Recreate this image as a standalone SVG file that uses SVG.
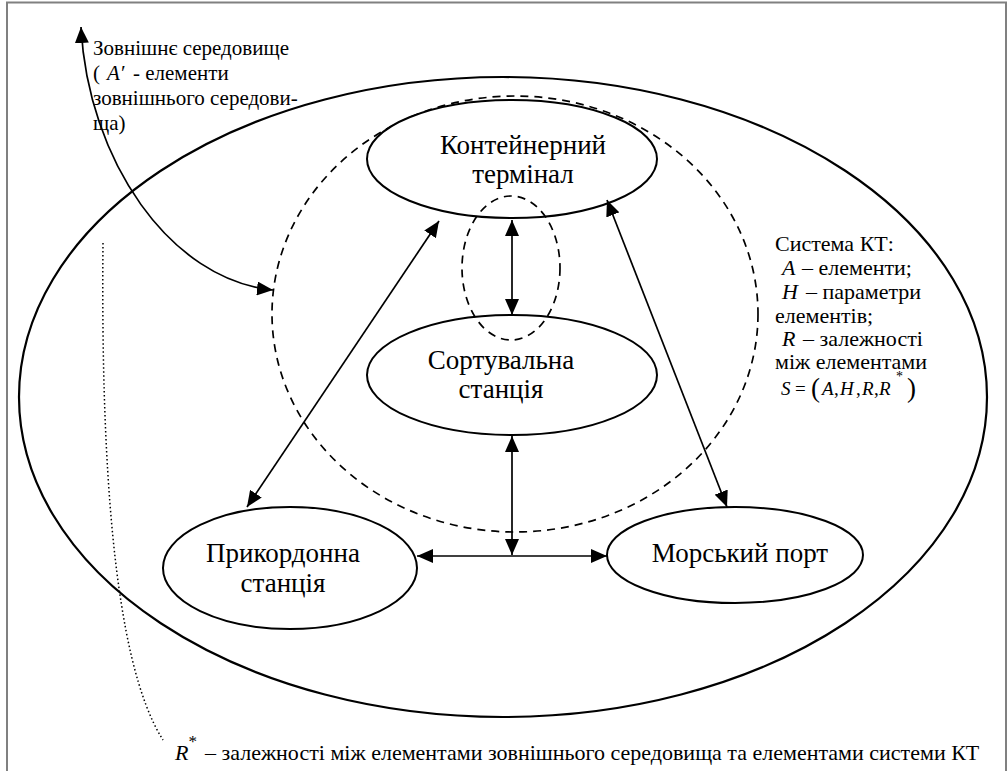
<svg xmlns="http://www.w3.org/2000/svg" width="1008" height="771" viewBox="0 0 1008 771">
<defs>
<marker id="ah" viewBox="0 0 16 14" refX="16" refY="7" markerWidth="16" markerHeight="14" orient="auto-start-reverse" markerUnits="userSpaceOnUse"><path d="M0,0 L16,7 L0,14 z" fill="#000"/></marker>
</defs>
<rect width="1008" height="771" fill="#fff"/>
<rect x="7" y="2.5" width="999" height="790" fill="none" stroke="#808080" stroke-width="2"/>
<g id="environment">
<ellipse fill="none" stroke="#000" stroke-width="2.2" cx="503" cy="397" rx="484" ry="320"/>
</g>
<g id="system-boundary">
<ellipse fill="none" stroke="#000" stroke-width="1.7" stroke-dasharray="8,6" cx="515" cy="314" rx="243" ry="218"/>
</g>
<g id="kt">
<ellipse fill="#fff" stroke="#000" stroke-width="2" cx="512" cy="159" rx="145" ry="59"/>
<text x="523" y="154" font-size="27" font-family="Times New Roman, Liberation Serif, serif" text-anchor="middle">Контейнерний</text>
<text x="523" y="183" font-size="27" font-family="Times New Roman, Liberation Serif, serif" text-anchor="middle">термінал</text>
</g>
<g id="sort">
<ellipse fill="#fff" stroke="#000" stroke-width="2" cx="512" cy="375" rx="145" ry="60"/>
<text x="501" y="369" font-size="27" font-family="Times New Roman, Liberation Serif, serif" text-anchor="middle">Сортувальна</text>
<text x="501" y="398" font-size="27" font-family="Times New Roman, Liberation Serif, serif" text-anchor="middle">станція</text>
</g>
<g id="kt-sort-boundary">
<ellipse fill="none" stroke="#000" stroke-width="1.7" stroke-dasharray="8,6" cx="511" cy="268" rx="49" ry="72"/>
</g>
<g id="border">
<ellipse fill="#fff" stroke="#000" stroke-width="2" cx="290" cy="568" rx="127" ry="61"/>
<text x="283" y="562" font-size="27" font-family="Times New Roman, Liberation Serif, serif" text-anchor="middle">Прикордонна</text>
<text x="283" y="592" font-size="27" font-family="Times New Roman, Liberation Serif, serif" text-anchor="middle">станція</text>
</g>
<g id="port">
<ellipse fill="#fff" stroke="#000" stroke-width="2" cx="735" cy="555" rx="128" ry="48"/>
<text x="740" y="562" font-size="27" font-family="Times New Roman, Liberation Serif, serif" text-anchor="middle">Морський порт</text>
</g>
<g id="connectors" fill="none" stroke="#000" stroke-width="1.7">
<path marker-start="url(#ah)" marker-end="url(#ah)" d="M512,220 L512,315"/>
<path marker-start="url(#ah)" marker-end="url(#ah)" d="M512,436 L512,555"/>
<path marker-start="url(#ah)" marker-end="url(#ah)" d="M417,556 L607,556"/>
<path marker-start="url(#ah)" marker-end="url(#ah)" d="M247,507 L439,221"/>
<path marker-start="url(#ah)" marker-end="url(#ah)" d="M727,507 L607,200"/>
<path marker-start="url(#ah)" marker-end="url(#ah)" d="M81,27 C88,160 170,280 273,290"/>
<path stroke-width="1.5" stroke-dasharray="1.5,2.5" d="M103,243 C101,450 112,660 163,740"/>
</g>
<g id="env-label">
<text x="93" y="55" font-size="21" font-family="Times New Roman, Liberation Serif, serif">Зовнішнє середовище</text>
<text x="93" y="80" font-size="21" font-family="Times New Roman, Liberation Serif, serif">(<tspan x="107" font-style="italic">A′</tspan><tspan x="133">- елементи</tspan></text>
<text x="93" y="105" font-size="21" font-family="Times New Roman, Liberation Serif, serif">зовнішнього середови-</text>
<text x="93" y="130" font-size="21" font-family="Times New Roman, Liberation Serif, serif">ща)</text>
</g>
<g id="system-label">
<text x="775" y="251" font-size="22" font-family="Times New Roman, Liberation Serif, serif">Система КТ:</text>
<text x="782" y="275" font-size="22" font-family="Times New Roman, Liberation Serif, serif"><tspan font-style="italic">A</tspan><tspan x="802">– елементи;</tspan></text>
<text x="782" y="299" font-size="22" font-family="Times New Roman, Liberation Serif, serif"><tspan font-style="italic">H</tspan><tspan x="806">– параметри</tspan></text>
<text x="775" y="323" font-size="22" font-family="Times New Roman, Liberation Serif, serif">елементів;</text>
<text x="782" y="346" font-size="22" font-family="Times New Roman, Liberation Serif, serif"><tspan font-style="italic">R</tspan><tspan x="803">– залежності</tspan></text>
<text x="775" y="369" font-size="22" font-family="Times New Roman, Liberation Serif, serif">між елементами</text>
<text y="395" font-size="19" font-family="Times New Roman, Liberation Serif, serif"><tspan x="781" font-style="italic">S</tspan><tspan x="795">=</tspan><tspan x="811" y="397" font-size="27">(</tspan><tspan x="822" y="395" font-style="italic">A</tspan><tspan x="834">,</tspan><tspan x="840" font-style="italic">H</tspan><tspan x="856">,</tspan><tspan x="862" font-style="italic">R</tspan><tspan x="874">,</tspan><tspan x="879" font-style="italic">R</tspan><tspan x="896" y="381" font-size="14">*</tspan><tspan x="907" y="397" font-size="27">)</tspan></text>
</g>
<g id="rstar-label">
<text x="175" y="760" font-size="22" font-family="Times New Roman, Liberation Serif, serif"><tspan font-style="italic">R</tspan><tspan font-size="17" dy="-13">*</tspan><tspan x="205" dy="13">– залежності між елементами зовнішнього середовища та елементами системи КТ</tspan></text>
</g>
</svg>
